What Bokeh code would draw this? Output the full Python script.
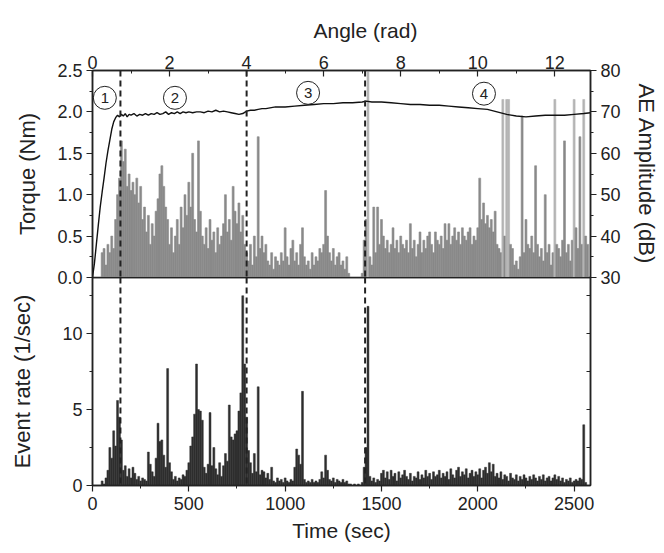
from bokeh.plotting import figure
from bokeh.layouts import column
from bokeh.models import (Range1d, LinearAxis, SingleIntervalTicker, FixedTicker, Span,
                          Title, ColumnDataSource, NumeralTickFormatter)
from bokeh.embed import file_html
from bokeh.resources import INLINE
from bokeh.core.properties import value

FONT = "Liberation Sans"
INK = "#222222"

# ---------------- data ----------------
time_end = 2585          # sec
sec_per_rad = 200.0      # angle (rad) = time / 200
step = 10                # sampling step of AE / event-rate series (sec)

torque_time = [0, 10, 20, 30, 40, 50, 60, 70, 80, 90, 100, 110, 120, 130, 140, 150, 160, 170,
               180, 190, 200, 215, 230, 245, 260, 275, 290, 305, 320, 335, 350, 365, 380, 395,
               410, 425, 440, 455, 470, 485, 500, 520, 540, 560, 580, 600, 620, 640, 660, 680,
               700, 720, 740, 760, 780, 800, 820, 840, 860, 880, 900, 950, 1000, 1050, 1100,
               1150, 1200, 1250, 1300, 1350, 1400, 1420, 1450, 1500, 1550, 1600, 1650, 1700,
               1750, 1800, 1850, 1900, 1950, 2000, 2050, 2100, 2150, 2200, 2250, 2300, 2350,
               2400, 2450, 2500, 2550, 2585]
torque_nm = [0.0, 0.17, 0.40, 0.63, 0.85, 1.03, 1.20, 1.38, 1.53, 1.66, 1.79, 1.88, 1.93, 1.96,
             1.94, 1.97, 1.95, 1.98, 1.94, 1.97, 1.96, 1.98, 1.95, 1.97, 1.96, 1.98, 1.96, 1.98,
             1.97, 1.99, 1.97, 1.98, 2.00, 1.97, 1.99, 1.98, 2.00, 1.98, 2.00, 1.99, 2.00, 1.99,
             2.00, 2.00, 1.99, 2.01, 2.00, 2.02, 2.00, 2.01, 2.00, 1.99, 1.98, 1.97, 1.98, 2.01,
             2.02, 2.02, 2.03, 2.04, 2.04, 2.06, 2.06, 2.07, 2.08, 2.09, 2.10, 2.10, 2.11, 2.11,
             2.12, 2.13, 2.12, 2.12, 2.11, 2.10, 2.09, 2.09, 2.08, 2.08, 2.07, 2.06, 2.05, 2.04,
             2.03, 2.00, 1.97, 1.95, 1.94, 1.95, 1.96, 1.96, 1.96, 1.97, 1.98, 1.99]

# AE amplitude (dB), one value every 10 s starting at t = 0
ae_db = [
    30, 30, 30, 30, 30, 36, 37, 33, 38, 36,
    40, 37, 44, 50, 54, 63, 58, 61, 52, 55,
    51, 53, 50, 54, 48, 52, 44, 47, 41, 45,
    38, 43, 40, 46, 49, 55, 57, 52, 47, 44,
    38, 42, 36, 40, 44, 38, 47, 42, 50, 45,
    53, 47, 60, 44, 41, 63, 46, 40, 38, 42,
    37, 44, 39, 41, 36, 42, 38, 40, 43, 50,
    41, 44, 39, 52, 46, 43, 48, 41, 45, 38,
    36, 34, 38, 33, 40, 35, 64, 37, 40, 36,
    38, 34, 33, 36, 32, 35, 34, 33, 36, 34,
    42, 35, 33, 37, 39, 34, 36, 33, 38, 42,
    35, 33, 34, 32, 36, 33, 35, 34, 37, 36,
    38, 51, 40, 36, 34, 37, 33, 35, 36, 33,
    34, 32, 35, 31, 30, 30, 30, 30, 30, 30,
    31, 39, 44, 80, 35, 33, 47, 36, 47, 38,
    44, 40, 37, 39, 36, 38, 42, 37, 39, 36,
    40, 38, 37, 39, 36, 43, 37, 39, 35, 38,
    41, 36, 39, 37, 40, 41, 38, 36, 41, 39,
    38, 40, 37, 43, 39, 43, 38, 40, 42, 39,
    41, 38, 42, 40, 39, 41, 42, 38, 40, 39,
    42, 54, 44, 48, 43, 45, 42, 44, 41, 46,
    38, 37, 36, 73, 40, 73, 73, 38, 37, 33,
    34, 32, 35, 69, 36, 44, 38, 37, 40, 36,
    57, 38, 35, 37, 34, 50, 36, 38, 33, 36,
    73, 38, 37, 35, 39, 63, 36, 38, 34, 39,
    73, 42, 37, 64, 38, 73, 40, 38,
]

# Event rate (1/sec), one value every 10 s starting at t = 0
event_rate = [
    0, 0, 0, 0, 0, 0.3, 0.1, 0.5, 1.0, 2.5,
    1.8, 3.6, 2.6, 5.6, 4.5, 3.0, 1.0, 1.3, 0.6, 1.1,
    0.5, 1.2, 0.8, 0.4, 0.6, 0.3, 0.5, 0.4, 0.3, 2.2,
    1.4, 0.9, 0.6, 1.8, 4.1, 2.9, 3.0, 2.0, 1.2, 7.7,
    1.5, 0.9, 0.4, 0.6, 0.3, 0.5, 0.4, 0.7, 0.6, 1.0,
    1.5, 2.6, 3.2, 4.7, 8.0, 5.0, 4.9, 4.3, 1.2, 0.8,
    1.4, 4.8, 1.3, 2.5, 1.1, 0.7, 1.5, 0.6, 1.3, 2.1,
    1.6, 5.3, 3.2, 3.0, 3.4, 3.6, 4.9, 6.1, 12.5, 8.0,
    4.5, 2.3, 1.5, 0.8, 2.1, 0.9, 6.5, 0.7, 1.0, 0.9,
    0.5, 0.8, 0.4, 1.2, 0.3, 0.2, 0.5, 0.3, 0.4, 0.2,
    0.5, 0.3, 0.2, 0.4, 0.3, 1.2, 2.4, 2.0, 1.4, 6.2,
    0.4, 0.2, 0.3, 0.2, 0.4, 0.2, 0.3, 0.2, 0.4, 0.9,
    0.5, 2.0, 1.0, 0.4, 0.3, 0.5, 0.2, 0.4, 0.3, 0.2,
    0.4, 0.2, 0.3, 0.1, 0.1, 0.0, 0.1, 0.0, 0.1, 0.0,
    0.2, 1.2, 2.5, 11.8, 0.6, 0.3, 0.5, 0.2, 0.4, 0.3,
    0.8, 1.0, 0.5, 0.9, 0.4, 1.0, 0.6, 0.8, 0.3, 0.9,
    0.5, 0.7, 1.0, 0.6, 0.4, 0.8, 0.3, 0.6, 0.5, 0.9,
    0.4, 0.7, 0.5, 1.0, 0.6, 0.8, 0.4, 0.9, 0.6, 0.7,
    1.0, 0.5, 0.8, 0.6, 0.9, 0.4, 1.1, 0.7, 0.5, 1.0,
    1.2, 0.6, 0.9, 0.7, 1.1, 0.5, 0.8, 1.0, 0.6, 0.9,
    0.7, 1.1, 0.5, 1.0, 1.2, 0.8, 1.5, 0.9, 1.4, 0.6,
    0.8, 0.5, 0.9, 0.4, 0.7, 0.6, 0.3, 0.8, 0.5, 0.4,
    0.7, 0.3, 0.6, 0.4, 0.7, 0.5, 0.3, 0.6, 0.4, 0.7,
    0.5, 0.3, 0.6, 0.4, 0.7, 0.3, 0.5, 0.6, 0.3, 0.5,
    0.7, 0.4, 0.6, 0.3, 0.5, 0.2, 0.4, 0.3, 0.5, 0.2,
    0.3, 0.4, 0.3, 0.5, 0.4, 4.0, 0.2,
]

stage_bounds = [145, 800, 1415]          # dashed separators (sec)
stage_labels = ["1", "2", "3", "4"]
stage_label_time = [64, 428, 1119, 2032]
stage_label_torque = [2.17, 2.17, 2.23, 2.22]

# ---------------- helpers ----------------
OVERLAP = 14   # top canvas extends below the shared edge so its bottom tick labels are not cut


def style_axis(ax, title_size="21px"):
    ax.major_label_text_font = FONT
    ax.major_label_text_font_size = "18px"
    ax.major_label_text_color = INK
    ax.axis_label_text_font = FONT
    ax.axis_label_text_font_size = title_size
    ax.axis_label_text_font_style = "normal"
    ax.axis_label_text_color = INK
    ax.axis_line_color = INK
    ax.axis_line_width = 1.5
    ax.major_tick_line_color = INK
    ax.minor_tick_line_color = INK
    ax.major_tick_line_width = 1.2
    ax.minor_tick_line_width = 1.0
    ax.major_tick_out = 6
    ax.major_tick_in = 0
    ax.minor_tick_out = 3
    ax.minor_tick_in = 0


def base_fig(height, y_range, top, bottom):
    f = figure(width=664, height=height, x_range=Range1d(0, time_end), y_range=y_range,
               output_backend="svg", toolbar_location=None,
               x_axis_location=None, y_axis_location=None,
               min_border_left=92, min_border_right=74,
               min_border_top=top, min_border_bottom=bottom)
    f.xgrid.visible = False
    f.ygrid.visible = False
    f.outline_line_color = INK
    f.outline_line_width = 1.5
    return f


# ---------------- top panel ----------------
top = base_fig(277 + OVERLAP, Range1d(0, 2.5), 70, OVERLAP)
top.extra_y_ranges = {"ae": Range1d(30, 80)}
top.extra_x_ranges = {"angle": Range1d(0, time_end / sec_per_rad)}

ae_time = [i * step for i in range(len(ae_db))]
ae_color = ["#b4b4b4" if v >= 72 else "#8a8a8a" for v in ae_db]
ae_src = ColumnDataSource(dict(t=ae_time, db=ae_db, c=ae_color))
top.vbar(x="t", top="db", bottom=30, width=step, y_range_name="ae",
         fill_color="c", line_color="c", line_width=0.6, source=ae_src)

top.line(torque_time, torque_nm, line_color="#111111", line_width=1.4)

ly = LinearAxis(axis_label="Torque (Nm)",
                ticker=SingleIntervalTicker(interval=0.5, num_minor_ticks=2),
                formatter=NumeralTickFormatter(format="0.0"))
style_axis(ly, "22px")
ly.major_label_standoff = 4
ly.axis_label_standoff = 14
top.add_layout(ly, "left")

ry = LinearAxis(y_range_name="ae", axis_label="AE Amplitude (dB)",
                ticker=SingleIntervalTicker(interval=10, num_minor_ticks=2))
style_axis(ry, "22px")
ry.major_label_standoff = 4
ry.axis_label_standoff = 10
top.add_layout(ry, "right")

ax_angle = LinearAxis(x_range_name="angle",
                      ticker=SingleIntervalTicker(interval=2, num_minor_ticks=2))
style_axis(ax_angle)
ax_angle.major_tick_out = 0
ax_angle.major_tick_in = 6
ax_angle.minor_tick_out = 0
ax_angle.minor_tick_in = 3
ax_angle.major_label_standoff = 2
ax_angle.axis_label_standoff = 0
top.add_layout(ax_angle, "above")

angle_title = Title(text="Angle (rad)", align="left", offset=221,
                    text_font=FONT, text_font_size="21px", text_font_style="normal",
                    text_color=INK, standoff=22)
top.add_layout(angle_title, "above")

for b in stage_bounds:
    top.add_layout(Span(location=b, dimension="height", line_color=INK,
                        line_width=2, line_dash="6 4"))

top.scatter(stage_label_time, stage_label_torque, marker="circle", size=23,
            fill_color=None, line_color=INK, line_width=1)
top.text(stage_label_time, stage_label_torque, text=stage_labels,
         text_font=value(FONT), text_font_size="15px", text_color=INK,
         text_align="center", text_baseline="middle")

# ---------------- bottom panel ----------------
bot = base_fig(276, Range1d(0, 13.7), 0, 68)
bot.background_fill_alpha = 0
bot.border_fill_alpha = 0
bot.margin = (-OVERLAP, 0, 0, 0)

er_time = [i * step for i in range(len(event_rate))]
bot.vbar(x=er_time, top=event_rate, bottom=0, width=step,
         fill_color="#2e2e2e", line_color="#2e2e2e", line_width=0.5)

for b in stage_bounds:
    bot.add_layout(Span(location=b, dimension="height", line_color=INK,
                        line_width=2, line_dash="6 4"))

bx = LinearAxis(axis_label="Time (sec)",
                ticker=SingleIntervalTicker(interval=500, num_minor_ticks=2))
style_axis(bx)
bx.major_label_standoff = 5
bx.axis_label_standoff = 6
bot.add_layout(bx, "below")

by = LinearAxis(axis_label="Event rate (1/sec)",
                ticker=SingleIntervalTicker(interval=5, num_minor_ticks=2))
style_axis(by, "22px")
by.major_label_standoff = 4
by.axis_label_standoff = 24
bot.add_layout(by, "left")

right_ticks = [2.5, 5, 7.5, 10, 12.5]
bry = LinearAxis(ticker=FixedTicker(ticks=right_ticks, minor_ticks=[]),
                 major_label_overrides={t: "" for t in right_ticks})
style_axis(bry)
bry.major_tick_out = 0
bry.major_tick_in = 4
bot.add_layout(bry, "right")

layout = column(top, bot, spacing=0)
open("out.html", "w").write(file_html(layout, INLINE))
